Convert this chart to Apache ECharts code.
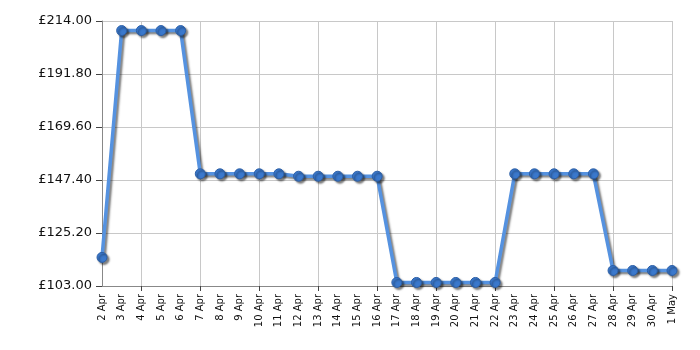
<!DOCTYPE html>
<html><head><meta charset="utf-8">
<script src="https://cdn.jsdelivr.net/npm/echarts@6/dist/echarts.min.js"></script>
<style>html,body{margin:0;padding:0;background:#fff}#c{width:700px;height:350px}</style>
</head><body><div id="c"></div>
<script>
var categories = ['2 Apr','3 Apr','4 Apr','5 Apr','6 Apr','7 Apr','8 Apr','9 Apr','10 Apr','11 Apr','12 Apr','13 Apr','14 Apr','15 Apr','16 Apr','17 Apr','18 Apr','19 Apr','20 Apr','21 Apr','22 Apr','23 Apr','24 Apr','25 Apr','26 Apr','27 Apr','28 Apr','29 Apr','30 Apr','1 May'];
var prices = [114.99,209.99,209.99,209.99,209.99,149.99,149.99,149.99,149.99,149.99,148.99,148.99,148.99,148.99,148.99,104.49,104.49,104.49,104.49,104.49,104.49,149.99,149.99,149.99,149.99,149.99,109.49,109.49,109.49,109.49];
var yMin = 103, yMax = 214, yStep = 22.2;

var chart = echarts.init(document.getElementById('c'));
var last = categories.length - 1;
function onGrid(i){ return (last - i) % 3 === 0; }
chart.setOption({
  animation: false,
  grid: {left: 102, right: 28, top: 21, bottom: 64},
  xAxis: {
    type: 'category', data: categories, boundaryGap: false,
    axisLine: {lineStyle: {color: '#888', width: 1}},
    axisTick: {show: true, length: 5, interval: onGrid, lineStyle: {color: '#444'}},
    splitLine: {show: true, interval: onGrid, lineStyle: {color: '#c8c8c8', width: 1}},
    axisLabel: {rotate: 90, interval: 0, fontFamily: 'DejaVu Sans', fontSize: 10, color: '#111', margin: 8}
  },
  yAxis: {
    type: 'value', min: 0, max: yMax - yMin, interval: yStep,
    axisLine: {show: true, lineStyle: {color: '#888', width: 1}},
    axisTick: {show: true, length: 6, lineStyle: {color: '#444'}},
    splitLine: {show: true, lineStyle: {color: '#c8c8c8', width: 1}},
    axisLabel: {fontFamily: 'DejaVu Sans', fontSize: 13, color: '#111', margin: 10,
      formatter: function(v){ return '£' + (v + yMin).toFixed(2); }}
  },
  series: [{
    type: 'line',
    data: prices.map(function(p){ return +(p - yMin).toFixed(4); }),
    symbol: 'circle', symbolSize: 10,
    lineStyle: {color: '#5592e0', width: 3.5, shadowColor: 'rgba(0,0,0,0.5)', shadowBlur: 2, shadowOffsetX: 2, shadowOffsetY: 2},
    itemStyle: {color: '#3a78cc', borderColor: '#2c5fa6', borderWidth: 1, shadowColor: 'rgba(0,0,0,0.5)', shadowBlur: 2, shadowOffsetX: 2, shadowOffsetY: 2}
  }]
});
</script></body></html>
